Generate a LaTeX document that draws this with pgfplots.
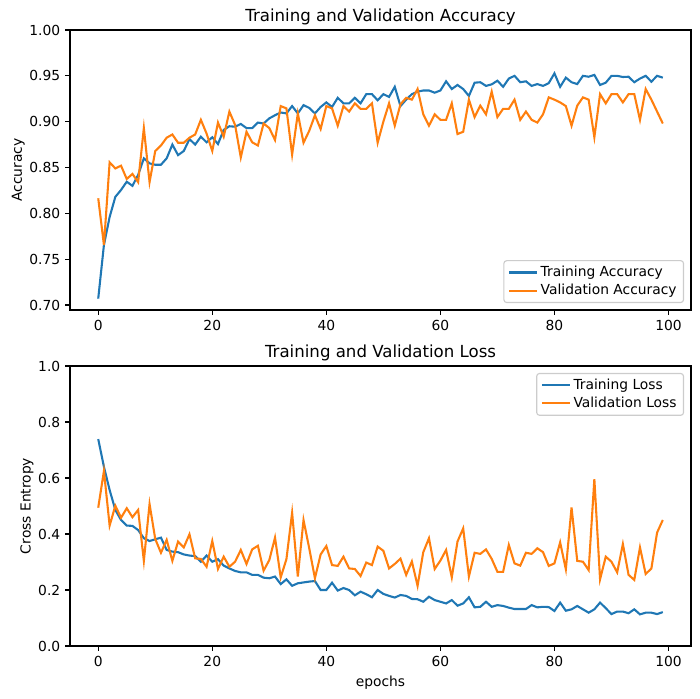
\documentclass[border=0pt]{standalone}
\usepackage{fontspec}
\setmainfont{DejaVu Sans}
\usepackage{pgfplots}
\usepackage{pgfplotstable}
\pgfplotsset{compat=1.18}
\definecolor{tabblue}{HTML}{1F77B4}
\definecolor{taborange}{HTML}{FF7F0E}

\pgfplotstableread{
e train val
0 0.707 0.8164
1 0.7655 0.7655
2 0.796 0.8556
3 0.818 0.849
4 0.8255 0.852
5 0.8345 0.8375
6 0.830 0.843
7 0.842 0.834
8 0.860 0.893
9 0.8545 0.834
10 0.853 0.868
11 0.853 0.874
12 0.860 0.8825
13 0.875 0.886
14 0.8635 0.877
15 0.868 0.877
16 0.881 0.8825
17 0.875 0.886
18 0.8836 0.902
19 0.8775 0.887
20 0.883 0.868
21 0.8756 0.899
22 0.891 0.8836
23 0.895 0.911
24 0.8945 0.8964
25 0.8975 0.861
26 0.893 0.889
27 0.893 0.8775
28 0.899 0.874
29 0.898 0.898
30 0.9036 0.893
31 0.907 0.880
32 0.910 0.917
33 0.909 0.9145
34 0.917 0.864
35 0.909 0.909
36 0.918 0.877
37 0.915 0.890
38 0.909 0.907
39 0.916 0.892
40 0.921 0.917
41 0.916 0.9145
42 0.926 0.8956
43 0.920 0.917
44 0.920 0.911
45 0.926 0.920
46 0.920 0.914
47 0.930 0.914
48 0.930 0.920
49 0.9233 0.877
50 0.930 0.900
51 0.927 0.920
52 0.938 0.8956
53 0.917 0.919
54 0.924 0.926
55 0.930 0.924
56 0.9327 0.9356
57 0.934 0.908
58 0.934 0.8956
59 0.9316 0.908
60 0.934 0.902
61 0.944 0.902
62 0.9356 0.920
63 0.940 0.8865
64 0.9356 0.889
65 0.928 0.924
66 0.9425 0.905
67 0.943 0.9175
68 0.939 0.908
69 0.9407 0.9327
70 0.9447 0.905
71 0.938 0.914
72 0.947 0.914
73 0.950 0.924
74 0.943 0.902
75 0.944 0.911
76 0.939 0.902
77 0.941 0.899
78 0.939 0.908
79 0.942 0.9265
80 0.9527 0.924
81 0.938 0.921
82 0.948 0.917
83 0.943 0.8956
84 0.941 0.9175
85 0.950 0.9265
86 0.949 0.924
87 0.951 0.883
88 0.940 0.930
89 0.9425 0.920
90 0.950 0.930
91 0.950 0.930
92 0.9487 0.921
93 0.949 0.930
94 0.943 0.930
95 0.947 0.902
96 0.950 0.9356
97 0.9436 0.924
98 0.950 0.911
99 0.948 0.898
}\acctable

\pgfplotstableread{
e train val
0 0.739 0.494
1 0.640 0.625
2 0.557 0.430
3 0.486 0.501
4 0.450 0.458
5 0.430 0.492
6 0.429 0.460
7 0.414 0.486
8 0.385 0.304
9 0.375 0.507
10 0.381 0.382
11 0.387 0.333
12 0.343 0.379
13 0.337 0.304
14 0.335 0.373
15 0.327 0.352
16 0.323 0.399
17 0.321 0.313
18 0.301 0.311
19 0.323 0.283
20 0.301 0.375
21 0.310 0.275
22 0.287 0.319
23 0.277 0.283
24 0.268 0.301
25 0.263 0.343
26 0.263 0.293
27 0.254 0.345
28 0.254 0.358
29 0.244 0.269
30 0.242 0.307
31 0.248 0.387
32 0.221 0.245
33 0.238 0.310
34 0.215 0.476
35 0.224 0.248
36 0.227 0.450
37 0.230 0.349
38 0.232 0.242
39 0.200 0.327
40 0.200 0.357
41 0.226 0.289
42 0.198 0.286
43 0.207 0.319
44 0.200 0.277
45 0.181 0.275
46 0.194 0.250
47 0.185 0.298
48 0.174 0.289
49 0.200 0.355
50 0.186 0.340
51 0.179 0.277
52 0.173 0.293
53 0.182 0.312
54 0.179 0.254
55 0.168 0.302
56 0.167 0.215
57 0.158 0.335
58 0.176 0.385
59 0.164 0.275
60 0.158 0.305
61 0.152 0.343
62 0.164 0.245
63 0.144 0.373
64 0.152 0.420
65 0.174 0.248
66 0.138 0.333
67 0.140 0.329
68 0.158 0.345
69 0.140 0.311
70 0.146 0.265
71 0.143 0.265
72 0.137 0.361
73 0.132 0.295
74 0.132 0.287
75 0.132 0.333
76 0.146 0.329
77 0.138 0.349
78 0.140 0.335
79 0.139 0.286
80 0.125 0.295
81 0.155 0.370
82 0.126 0.274
83 0.131 0.495
84 0.143 0.304
85 0.131 0.301
86 0.119 0.271
87 0.131 0.596
88 0.155 0.238
89 0.135 0.319
90 0.114 0.301
91 0.123 0.263
92 0.123 0.364
93 0.117 0.254
94 0.131 0.236
95 0.113 0.352
96 0.119 0.257
97 0.119 0.277
98 0.114 0.405
99 0.121 0.450
}\losstable

\pgfplotsset{
  mpl/.style={
    scale only axis, width=447.12bp, height=201.6bp,
    xmin=-4.95, xmax=103.95,
    xtick={0,20,...,100},
    tick align=outside, major tick length=3.5bp,
    xtick pos=left, ytick pos=left,
    tick style={black, line width=0.8bp},
    axis line style={line width=0.8bp},
    /pgf/number format/assume math mode=true,
    tick label style={font=\fontsize{10}{12}\selectfont},
    label style={font=\fontsize{10}{12}\selectfont},
    ylabel style={yshift=-3.5bp},
    every axis title shift=0pt,
    title style={font=\fontsize{12}{14}\selectfont, at={(0.5,1)}, anchor=base, yshift=6bp, inner sep=0pt},
    legend style={font=\fontsize{10}{12}\selectfont, draw=black!20, line width=0.8bp, rounded corners=2bp,
      fill=white, fill opacity=0.8, text opacity=1, inner xsep=3bp, inner ysep=2bp},
    legend cell align=left,
    every axis plot/.append style={line width=1.5bp, mark=none},
    legend image code/.code={\draw[#1] (0bp,0bp) -- (20bp,0bp);},
  }
}

\begin{document}
\begin{tikzpicture}[x=1bp,y=1bp]
\useasboundingbox (0,0) rectangle (504,503.28);
\begin{axis}[mpl,
  at={(50.4bp,280.08bp)}, anchor=south west,
  ymin=0.6946, ymax=1.0,
  ytick={0.70,0.75,...,1.0},
  yticklabel style={/pgf/number format/.cd, fixed, fixed zerofill, precision=2},
  title={Training and Validation Accuracy},
  ylabel={Accuracy},
  legend style={at={(1,0)}, anchor=south east, xshift=-5bp, yshift=5bp},
]
\addplot[tabblue] table[x=e, y=train] {\acctable};
\addlegendentry{Training Accuracy}
\addplot[taborange] table[x=e, y=val] {\acctable};
\addlegendentry{Validation Accuracy}
\end{axis}
\begin{axis}[mpl,
  at={(50.4bp,38.16bp)}, anchor=south west,
  ymin=0, ymax=1.0,
  ytick={0,0.2,...,1.0},
  yticklabel style={/pgf/number format/.cd, fixed, fixed zerofill, precision=1},
  title={Training and Validation Loss},
  ylabel={Cross Entropy},
  xlabel={epochs},
  legend style={at={(1,1)}, anchor=north east, xshift=-5bp, yshift=-5bp},
]
\addplot[tabblue] table[x=e, y=train] {\losstable};
\addlegendentry{Training Loss}
\addplot[taborange] table[x=e, y=val] {\losstable};
\addlegendentry{Validation Loss}
\end{axis}
\end{tikzpicture}
\end{document}
